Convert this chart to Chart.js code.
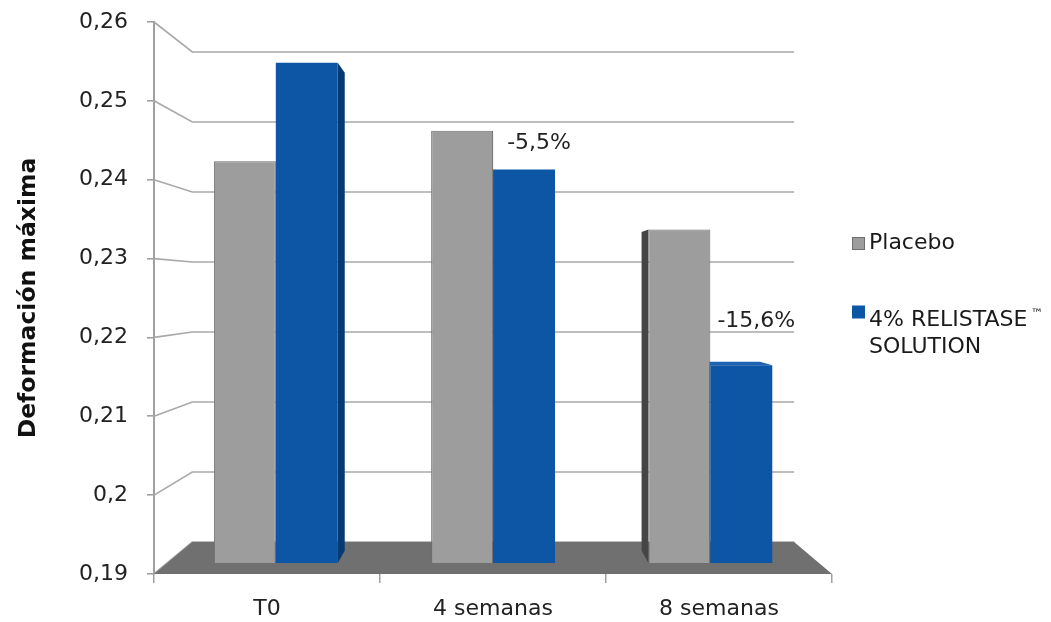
<!DOCTYPE html>
<html>
<head>
<meta charset="utf-8">
<script src="https://cdn.jsdelivr.net/npm/chart.js@4/dist/chart.umd.min.js"></script>
<style>
  body { margin: 0; background: #fff; }
  canvas { display: block; }
</style>
</head>
<body>
<canvas id="chart" width="1051" height="622"></canvas>
<script>
// categories, series and axis ticks
const categories = ['T0', '4 semanas', '8 semanas']
const placebo = [0.243, 0.247, 0.234]
const relistase = [0.256, 0.2419, 0.2161]
const seriesNames = [['Placebo'], ['4% RELISTASE\u2122', 'SOLUTION']]
const yTicks = [0.19, 0.2, 0.21, 0.22, 0.23, 0.24, 0.25, 0.26]

const FONT = 'DejaVu Sans'
const GRAY = '#9d9d9d'
const BLUE = '#0c56a5'

// fake 3d: vanishing point (fraction of plot area), depth of back wall,
// depth of the bar front faces and how deep the bars are
const view = { vx: 0.503, vy: 0.484, wall: 0.1123, bars: 0.0386, depth: 0.0446 }

const yMin = yTicks[0], yMax = yTicks[yTicks.length - 1], yRange = yMax - yMin
// hidden scales for the bars, shrunk toward the vanishing point
const ybMax = yMax + view.bars * view.vy * yRange / (1 - view.bars)
const ybMin = ybMax - yRange / (1 - view.bars)
const n = categories.length
const xbMin = -0.5 - n * view.bars * view.vx / (1 - view.bars)
const xbMax = xbMin + n / (1 - view.bars)

const fmt = v => String(Math.round(v * 100) / 100).replace('.', ',')

function vanish(chart) {
  const a = chart.chartArea
  return { x: a.left + view.vx * (a.right - a.left), y: a.top + view.vy * (a.bottom - a.top) }
}
function toward(p, v, k) {
  return { x: p.x + k * (v.x - p.x), y: p.y + k * (v.y - p.y) }
}
function poly(ctx, pts, fill) {
  ctx.beginPath()
  ctx.moveTo(pts[0].x, pts[0].y)
  pts.slice(1).forEach(p => ctx.lineTo(p.x, p.y))
  ctx.closePath()
  ctx.fillStyle = fill
  ctx.fill()
}

const room = {
  id: 'room',
  beforeDatasetsDraw(chart) {
    const ctx = chart.ctx, a = chart.chartArea, v = vanish(chart)
    const y = chart.scales.y
    ctx.save()
    // back wall grid + left wall diagonals
    ctx.strokeStyle = '#a9a9a9'
    ctx.lineWidth = 1.7
    y.ticks.forEach(t => {
      const py = y.getPixelForValue(t.value)
      const l = toward({ x: a.left, y: py }, v, view.wall)
      const r = toward({ x: a.right, y: py }, v, view.wall)
      ctx.beginPath()
      ctx.moveTo(a.left, py)
      ctx.lineTo(l.x, l.y)
      ctx.lineTo(r.x, r.y)
      ctx.stroke()
    })
    // floor
    const fl = { x: a.left, y: a.bottom }, fr = { x: a.right, y: a.bottom }
    poly(ctx, [fl, fr, toward(fr, v, view.wall), toward(fl, v, view.wall)], '#707070')
    // bar sides and tops
    chart.data.datasets.forEach((ds, di) => {
      chart.getDatasetMeta(di).data.forEach(bar => {
        const { x, y: top, base, width } = bar.getProps(['x', 'y', 'base', 'width'], true)
        const L = x - width / 2, R = x + width / 2
        const k = view.depth
        if (R < v.x) {
          const p1 = { x: R, y: top }, p2 = { x: R, y: base }
          poly(ctx, [p1, toward(p1, v, k), toward(p2, v, k), p2], ds.sideColor)
        }
        if (L > v.x) {
          const p1 = { x: L, y: top }, p2 = { x: L, y: base }
          poly(ctx, [p1, toward(p1, v, k), toward(p2, v, k), p2], ds.sideColor)
        }
        if (top > v.y) {
          const p1 = { x: L, y: top }, p2 = { x: R, y: top }
          poly(ctx, [p1, p2, toward(p2, v, k), toward(p1, v, k)], ds.topColor)
        }
      })
    })
    ctx.restore()
  }
}

// percentage change of the active series vs T0
const changeLabels = {
  id: 'changeLabels',
  afterDatasetsDraw(chart) {
    const ctx = chart.ctx
    const meta = chart.getDatasetMeta(1)
    const offsets = [null, [15, -26], [15, -44]]
    ctx.save()
    ctx.font = '22px "' + FONT + '"'
    ctx.fillStyle = '#222'
    ctx.textAlign = 'center'
    ctx.textBaseline = 'middle'
    relistase.forEach((v, i) => {
      if (!offsets[i]) return
      const pct = ((v / relistase[0] - 1) * 100).toFixed(1).replace('.', ',') + '%'
      const bar = meta.data[i]
      ctx.fillText(pct, bar.x + offsets[i][0], bar.y + offsets[i][1])
    })
    ctx.restore()
  }
}

const sideLegend = {
  id: 'sideLegend',
  afterDraw(chart) {
    const ctx = chart.ctx, a = chart.chartArea
    const rows = [{ box: 243.5, lines: [243] }, { box: 312, lines: [320, 347.5] }]
    const bx = a.right + 20, tx = a.right + 37
    ctx.save()
    ctx.textBaseline = 'middle'
    chart.data.datasets.forEach((ds, i) => {
      const row = rows[i]
      ctx.fillStyle = ds.backgroundColor
      ctx.fillRect(bx, row.box - 6.5, 13, 13)
      if (ds.borderWidth) {
        ctx.strokeStyle = ds.borderColor
        ctx.lineWidth = 1
        ctx.strokeRect(bx + 0.5, row.box - 6, 12, 12)
      }
      ctx.fillStyle = '#1a1a1a'
      seriesNames[i].forEach((line, j) => {
        let text = line, mark = ''
        if (line.endsWith('\u2122')) { text = line.slice(0, -1); mark = '\u2122' }
        ctx.font = '22px "' + FONT + '"'
        ctx.fillText(text, tx, row.lines[j])
        if (mark) {
          const w = ctx.measureText(text).width
          ctx.font = '13px "' + FONT + '"'
          ctx.fillText(mark, tx + w + 3, row.lines[j] - 5)
        }
      })
    })
    ctx.restore()
  }
}

new Chart(document.getElementById('chart'), {
  type: 'bar',
  data: {
    labels: categories,
    datasets: [
      {
        label: seriesNames[0].join(' '),
        data: placebo.map((v, i) => ({ x: i, y: v })),
        backgroundColor: GRAY,
        borderColor: '#6e6e6e',
        borderWidth: 1,
        sideColor: '#454545',
        topColor: '#b5b5b5',
        xAxisID: 'xb',
        yAxisID: 'yb'
      },
      {
        label: seriesNames[1].join(' '),
        data: relistase.map((v, i) => ({ x: i, y: v })),
        backgroundColor: BLUE,
        borderWidth: 0,
        sideColor: '#073a72',
        topColor: '#1d63b2',
        xAxisID: 'xb',
        yAxisID: 'yb'
      }
    ]
  },
  options: {
    responsive: false,
    animation: false,
    base: yMin,
    categoryPercentage: 0.57,
    barPercentage: 1,
    layout: { padding: { left: 0, top: 22, right: 219, bottom: 0 } },
    plugins: {
      legend: { display: false },
      tooltip: { enabled: false }
    },
    scales: {
      x: {
        type: 'category',
        position: 'bottom',
        min: 0,
        max: n - 1,
        offset: true,
        afterFit: s => { s.height = 48 },
        grid: { offset: true, drawOnChartArea: false, tickLength: 9, color: '#a0a0a0', lineWidth: 1.5 },
        border: { display: false },
        ticks: { padding: 13, color: '#222', font: { family: FONT, size: 22 } }
      },
      y: {
        type: 'linear',
        position: 'left',
        min: yMin,
        max: yMax,
        beginAtZero: false,
        afterBuildTicks: s => { s.ticks = yTicks.map(v => ({ value: v })) },
        afterFit: s => { s.width = 154; s.paddingTop = 0; s.paddingBottom = 0 },
        grid: { drawOnChartArea: false, tickLength: 7, color: '#a0a0a0', lineWidth: 1.6 },
        border: { display: true, color: '#a0a0a0', width: 2 },
        ticks: { padding: 19, color: '#222', font: { family: FONT, size: 22 }, callback: v => fmt(v) },
        title: {
          display: true,
          text: 'Deformación máxima',
          color: '#111',
          padding: { top: 15, bottom: 0 },
          font: { family: FONT, size: 23.5, weight: 'bold' }
        }
      },
      xb: {
        type: 'linear',
        display: false,
        offset: false,
        min: xbMin,
        max: xbMax,
        afterBuildTicks: s => { s.ticks = categories.map((c, i) => ({ value: i })) }
      },
      yb: {
        type: 'linear',
        display: false,
        beginAtZero: false,
        min: ybMin,
        max: ybMax
      }
    }
  },
  plugins: [room, changeLabels, sideLegend]
})
</script>
</body>
</html>
